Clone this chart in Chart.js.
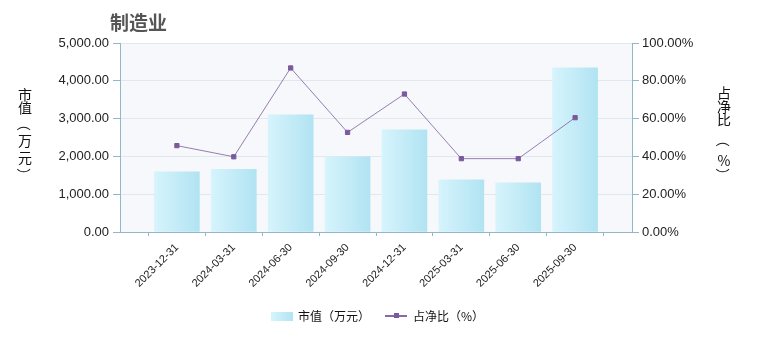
<!DOCTYPE html>
<html>
<head>
<meta charset="utf-8">
<script src="https://cdn.jsdelivr.net/npm/chart.js@4/dist/chart.umd.min.js"></script>
<style>
  html, body { margin: 0; padding: 0; background: #fff; }
  .wrap { position: relative; width: 760px; height: 340px; font-family: "Noto Sans CJK SC", "Liberation Sans", sans-serif; }
  canvas { position: absolute; left: 0; top: 0; }
  .title { position: absolute; left: 110px; top: 9px; font-size: 19px; font-weight: bold; color: #555; line-height: 26px; }
  .vlabel { position: absolute; top: 0; width: 20px; font-size: 14px; color: #111; }
  .vlabel span { position: absolute; left: 0; width: 20px; height: 14px; line-height: 14px; text-align: center; }
  .vlabel span.rot { transform: rotate(90deg); }
  .legend { position: absolute; top: 308px; font-size: 12px; line-height: 16px; color: #111; }
  .swatch-bar { position: absolute; top: 4px; width: 22px; height: 9px; background: linear-gradient(to right, #d6f4fc, #b1e3f2); }
  .swatch-line { position: absolute; top: 7px; width: 22px; height: 2px; background: #8a68ad; }
  .swatch-dot { position: absolute; top: 5px; width: 5px; height: 5px; background: #7a5a9c; }
</style>
</head>
<body>
<div class="wrap">
  <canvas id="chart" width="760" height="340"></canvas>
  <div class="title">制造业</div>
  <div class="vlabel" style="left:15px"><span style="top:87px">市</span><span style="top:100px">值</span><span class="rot" style="top:117px">（</span><span style="top:133px">万</span><span style="top:150px">元</span><span class="rot" style="top:168px">）</span></div>
  <div class="vlabel" style="left:714px"><span style="top:85px">占</span><span style="top:99px">净</span><span style="top:112px">比</span><span class="rot" style="top:133px">（</span><span style="top:153px">%</span><span class="rot" style="top:168px">）</span></div>
  <div class="legend" style="left:271px">
    <span class="swatch-bar" style="left:0"></span>
    <span style="position:absolute;left:27px;white-space:nowrap">市值（万元）</span>
  </div>
  <div class="legend" style="left:385px">
    <span class="swatch-line" style="left:0"></span>
    <span class="swatch-dot" style="left:9px"></span>
    <span style="position:absolute;left:28px;white-space:nowrap">占净比（%）</span>
  </div>
</div>
<script>
const categories = ['2023-12-31', '2024-03-31', '2024-06-30', '2024-09-30', '2024-12-31', '2025-03-31', '2025-06-30', '2025-09-30'];
const marketValue = [1590, 1660, 3100, 1990, 2700, 1380, 1300, 4340];
const netRatio = [45.7, 39.8, 86.8, 52.7, 73.0, 38.8, 38.8, 60.5];

const axisColor = '#93b6cb';
const tickFont = { family: 'Liberation Sans, Arial, sans-serif', size: 13 };

// an empty slot on each side, the reference leaves room there
const labels = ['', ...categories, ''];
const pad = arr => [null, ...arr, null];

const plotBg = {
	id: 'plotBg',
	beforeDraw(chart) {
		const a = chart.chartArea;
		chart.ctx.save();
		chart.ctx.fillStyle = '#f7f8fb';
		chart.ctx.fillRect(a.left, a.top, a.right - a.left, a.bottom - a.top);
		chart.ctx.restore();
	},
};

function barGradient(c) {
	const xs = c.chart.scales.x;
	if (!xs || c.type !== 'data') return '#c4ecf7';
	const x = xs.getPixelForValue(c.dataIndex);
	if (!isFinite(x)) return '#c4ecf7'; // scales not laid out yet
	const g = c.chart.ctx.createLinearGradient(x - 22.5, 0, x + 22.5, 0);
	g.addColorStop(0, '#d6f4fc');
	g.addColorStop(1, '#b1e3f2');
	return g;
}

new Chart(document.getElementById('chart').getContext('2d'), {
	type: 'bar',
	data: {
		labels: labels,
		datasets: [
			{
				type: 'line',
				label: '占净比（%）',
				data: pad(netRatio),
				yAxisID: 'y1',
				order: 0,
				borderColor: 'rgba(126, 94, 160, 0.8)',
				borderWidth: 1,
				pointStyle: 'rect',
				pointRadius: 3,
				pointBackgroundColor: '#7a5a9c',
				pointBorderColor: '#7a5a9c',
				pointBorderWidth: 1,
				tension: 0,
			},
			{
				type: 'bar',
				label: '市值（万元）',
				data: pad(marketValue),
				yAxisID: 'y',
				order: 1,
				barThickness: 45,
				backgroundColor: barGradient,
				borderWidth: 0,
			},
		],
	},
	options: {
		responsive: false,
		animation: false,
		layout: { padding: { left: 50, right: 50, top: 43, bottom: 48 } },
		plugins: {
			legend: { display: false },
			tooltip: { enabled: false },
		},
		scales: {
			x: {
				offset: false,
				grid: { drawOnChartArea: false, drawTicks: true, tickLength: 4, color: axisColor },
				border: { color: axisColor },
				ticks: {
					autoSkip: false,
					maxRotation: 45,
					minRotation: 45,
					padding: 5,
					color: '#222',
					font: { family: 'Liberation Sans, Arial, sans-serif', size: 11 },
				},
				afterFit: s => { s.height = 60; },
			},
			y: {
				position: 'left',
				min: 0,
				max: 5000,
				ticks: {
					stepSize: 1000,
					padding: 4,
					color: '#222',
					font: tickFont,
					callback: v => v.toLocaleString('en-US', { minimumFractionDigits: 2, maximumFractionDigits: 2 }),
				},
				grid: { color: '#e2e7ee', tickColor: axisColor, tickLength: 7 },
				border: { color: axisColor },
				afterFit: s => { s.width = 70; },
			},
			y1: {
				position: 'right',
				min: 0,
				max: 100,
				ticks: {
					stepSize: 20,
					padding: 3,
					color: '#222',
					font: tickFont,
					callback: v => v.toFixed(2) + '%',
				},
				grid: { drawOnChartArea: false, tickColor: axisColor, tickLength: 7 },
				border: { color: axisColor },
				afterFit: s => { s.width = 78; },
			},
		},
	},
	plugins: [plotBg],
});
</script>
</body>
</html>
